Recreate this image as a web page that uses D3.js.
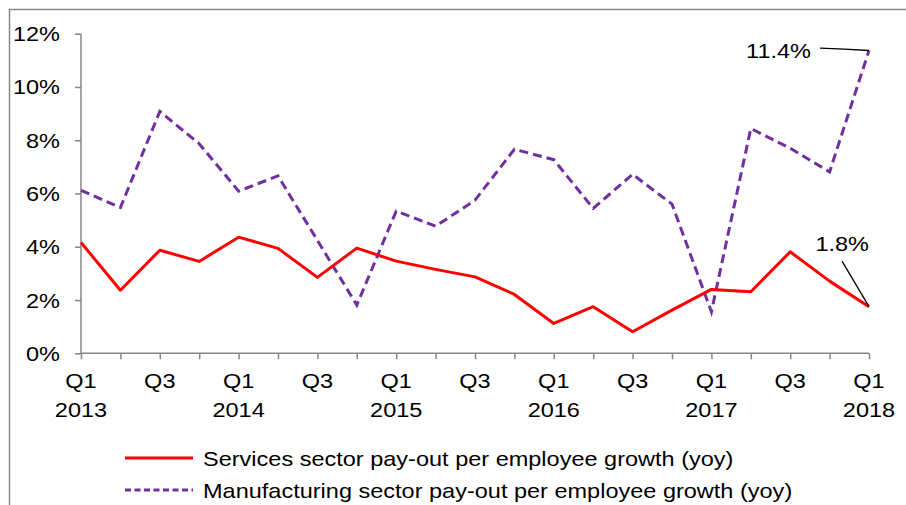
<!DOCTYPE html>
<html>
<head>
<meta charset="utf-8">
<script src="https://cdn.jsdelivr.net/npm/d3@7"></script>
<style>
    body { margin: 0; background: #fff; }
    text { font-family: "Liberation Sans", Arial, sans-serif; fill: #000; font-size: 21px; }
    .axis path, .axis line { stroke: #868686; stroke-width: 1.5px; }
</style>
</head>
<body>
<div id="chart"></div>
<script>

// quarters Q1 2013 .. Q1 2018
var quarters = ["Q1 2013", "Q2 2013", "Q3 2013", "Q4 2013",
    "Q1 2014", "Q2 2014", "Q3 2014", "Q4 2014",
    "Q1 2015", "Q2 2015", "Q3 2015", "Q4 2015",
    "Q1 2016", "Q2 2016", "Q3 2016", "Q4 2016",
    "Q1 2017", "Q2 2017", "Q3 2017", "Q4 2017",
    "Q1 2018"];

var services = [4.16, 2.37, 3.87, 3.45, 4.36, 3.94, 2.85, 3.95, 3.46, 3.15, 2.87, 2.21,
    1.12, 1.75, 0.81, 1.62, 2.4, 2.31, 3.81, 2.71, 1.75];

var manufacturing = [6.12, 5.47, 9.08, 7.87, 6.09, 6.66, 4.24, 1.81, 5.34, 4.77, 5.75, 7.66,
    7.27, 5.44, 6.72, 5.6, 1.56, 8.44, 7.7, 6.81, 11.37];

var yTicks = [0, 2, 4, 6, 8, 10, 12];

var seriesNames = ["Services sector pay-out per employee growth (yoy)",
    "Manufacturing sector pay-out per employee growth (yoy)"];

var endLabels = ["1.8%", "11.4%"];

var W = 906, H = 505;
var margin = {top: 33.7, right: 37, bottom: 151.7, left: 81};
var width = W - margin.left - margin.right,
    height = H - margin.top - margin.bottom;

// text in the original is a bit wider than Arial at the same height
var SX = 1.12;

// place a text at (x,y) and stretch it horizontally
function addText(parent, x, y, str, anchor) {
    return parent.append("text")
        .attr("transform", "translate(" + x + "," + y + ") scale(" + SX + ",1)")
        .attr("text-anchor", anchor || "start")
        .text(str);
}

var svg = d3.select("#chart").append("svg")
    .attr("width", W)
    .attr("height", H);

// outer chart frame
svg.append("rect")
    .attr("x", 9.5).attr("y", 9.5)
    .attr("width", W + 20).attr("height", H + 20)
    .attr("fill", "none")
    .attr("stroke", "#898989")
    .attr("stroke-width", 1.5);

var g = svg.append("g")
    .attr("transform", "translate(" + margin.left + "," + margin.top + ")");

var x = d3.scalePoint()
    .domain(quarters)
    .range([0, width]);

var y = d3.scaleLinear()
    .domain([0, 12])
    .range([height, 0]);

var yAxis = d3.axisLeft(y)
    .tickValues(yTicks)
    .tickSize(6)
    .tickFormat("");

var xAxis = d3.axisBottom(x)
    .tickSize(6)
    .tickFormat("");

var yg = g.append("g")
    .attr("class", "y-axis axis")
    .call(yAxis)
    .call(function(s) { s.select(".domain").attr("d", "M0,0V" + height); });

yTicks.forEach(function(t) {
    addText(yg, -21, y(t) + 7.5, t + "%", "end");
});

var xg = g.append("g")
    .attr("class", "x-axis axis")
    .attr("transform", "translate(0," + height + ")")
    .call(xAxis)
    .call(function(s) { s.select(".domain").attr("d", "M0,0H" + width); });

// two-line tick labels on Q1 and Q3 only
quarters.forEach(function(q, i) {
    if (i % 2 != 0) return;
    var parts = q.split(" ");
    addText(xg, x(q), 35, parts[0], "middle");
    if (parts[0] == "Q1") addText(xg, x(q), 64, parts[1], "middle");
});

var line = d3.line()
    .x(function(d, i) { return x(quarters[i]); })
    .y(function(d) { return y(d); })
    .curve(d3.curveLinear);

g.append("path")
    .datum(manufacturing)
    .attr("fill", "none")
    .attr("stroke", "#7030A0")
    .attr("stroke-width", 3)
    .attr("stroke-dasharray", "9,5")
    .attr("d", line);

g.append("path")
    .datum(services)
    .attr("fill", "none")
    .attr("stroke", "#FF0000")
    .attr("stroke-width", 3)
    .attr("stroke-linejoin", "round")
    .attr("d", line);

// end-point callouts
var last = quarters[quarters.length - 1];
var xe = x(last);

g.append("line")
    .attr("x1", xe - 27).attr("y1", y(services[20]) - 45.5)
    .attr("x2", xe).attr("y2", y(services[20]))
    .attr("stroke", "#000").attr("stroke-width", 1.3);
addText(g, xe, y(services[20]) - 55.5, endLabels[0], "end");

g.append("path")
    .attr("d", "M" + (xe - 49) + "," + (y(manufacturing[20]) - 2.3) +
        "Q" + (xe - 25) + "," + (y(manufacturing[20]) - 1.5) + " " + xe + "," + y(manufacturing[20]))
    .attr("fill", "none")
    .attr("stroke", "#000").attr("stroke-width", 1.3);
addText(g, xe - 58, y(manufacturing[20]) + 7.5, endLabels[1], "end");

// legend
var legend = svg.append("g").attr("class", "legend");
var styles = [{c: "#FF0000", dash: null}, {c: "#7030A0", dash: "6,3.5"}];

legend.selectAll(".leg")
    .data(seriesNames)
    .enter().append("g")
    .attr("class", "leg")
    .attr("transform", function(d, i) { return "translate(125," + (458 + i * 32) + ")"; })
    .each(function(d, i) {
        var s = d3.select(this);
        s.append("line")
            .attr("x1", 0).attr("x2", 68)
            .attr("stroke", styles[i].c)
            .attr("stroke-width", 3)
            .attr("stroke-dasharray", styles[i].dash);
        addText(s, 78, 7.5, d);
    });

</script>
</body>
</html>
